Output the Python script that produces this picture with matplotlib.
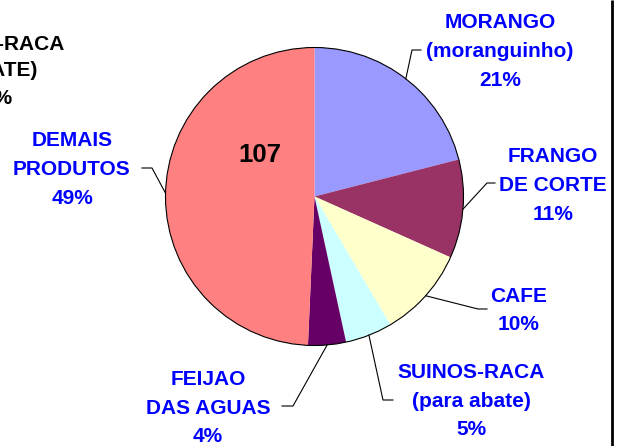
import numpy as np
import matplotlib.pyplot as plt
from matplotlib.patches import Circle

plt.rcParams['font.family'] = ['Liberation Sans', 'DejaVu Sans']

# dados do grafico
label_lines = [["MORANGO", "(moranguinho)"],
               ["FRANGO", "DE CORTE"],
               ["CAFE"],
               ["SUINOS-RACA", "(para abate)"],
               ["FEIJAO", "DAS AGUAS"],
               ["DEMAIS", "PRODUTOS"]]
shares = [21.0, 10.7, 9.8, 5.1, 4.1, 49.3]
colors = ["#9999FF", "#993366", "#FFFFCC", "#CCFFFF", "#660066", "#FF8080"]
total_label = "107"
prev_lines = ["SUINOS-RACA", "(PARA ABATE)", "5%"]  # resto do grafico anterior (cortado)

W, H = 619, 446
fig = plt.figure(figsize=(W / 100, H / 100), dpi=100)
ax = fig.add_axes([0, 0, 1, 1])

cx, cy, r = 314.5, H - 196.5, 149
wedges, _ = ax.pie(shares, colors=colors, startangle=90, counterclock=False,
                   center=(cx, cy), radius=r, wedgeprops=dict(linewidth=0))
ax.add_patch(Circle((cx, cy), r, fill=False, ec='black', lw=0.8))

# posicao dos rotulos: x do texto, baseline da 1a linha, cotovelo, fim da linha guia
layout = [(500, 28.5, (412, 50), (421, 50)),
          (553, 162.5, (487, 183), (495, 183)),
          (519, 301.5, (478, 309), (487, 309)),
          (471, 378, (383, 400), (393, 400)),
          (208, 385, (293, 406), (282, 406)),
          (72, 146.5, (152, 168), (142, 168))]
gap = 28.7

for w, lines, share, (tx, base, knee, end) in zip(wedges, label_lines, shares, layout):
    ang = np.deg2rad((w.theta1 + w.theta2) / 2)
    sx, sy = cx + r * np.cos(ang), cy + r * np.sin(ang)
    ax.plot([sx, knee[0], end[0]], [sy, H - knee[1], H - end[1]],
            color='black', lw=0.8)
    for j, txt in enumerate(lines + [f"{round(share)}%"]):
        ax.text(tx, H - (base + j * gap), txt, ha='center', va='baseline',
                color='#0000FF', fontsize=15, fontweight='bold')

ax.text(260, H - 161.7, total_label, ha='center', va='baseline',
        fontsize=18.5, fontweight='bold', color='black')

for txt, xr, yb in zip(prev_lines, [65, 37, 13], [50, 76, 104]):
    ax.text(xr, H - yb, txt, ha='right', va='baseline',
            fontsize=15, fontweight='bold', color='black')

ax.plot([612, 612], [0, H], color='black', lw=2, solid_capstyle='butt')

ax.set_xlim(0, W)
ax.set_ylim(0, H)
ax.axis('off')

fig.savefig('out.png', dpi=100)
